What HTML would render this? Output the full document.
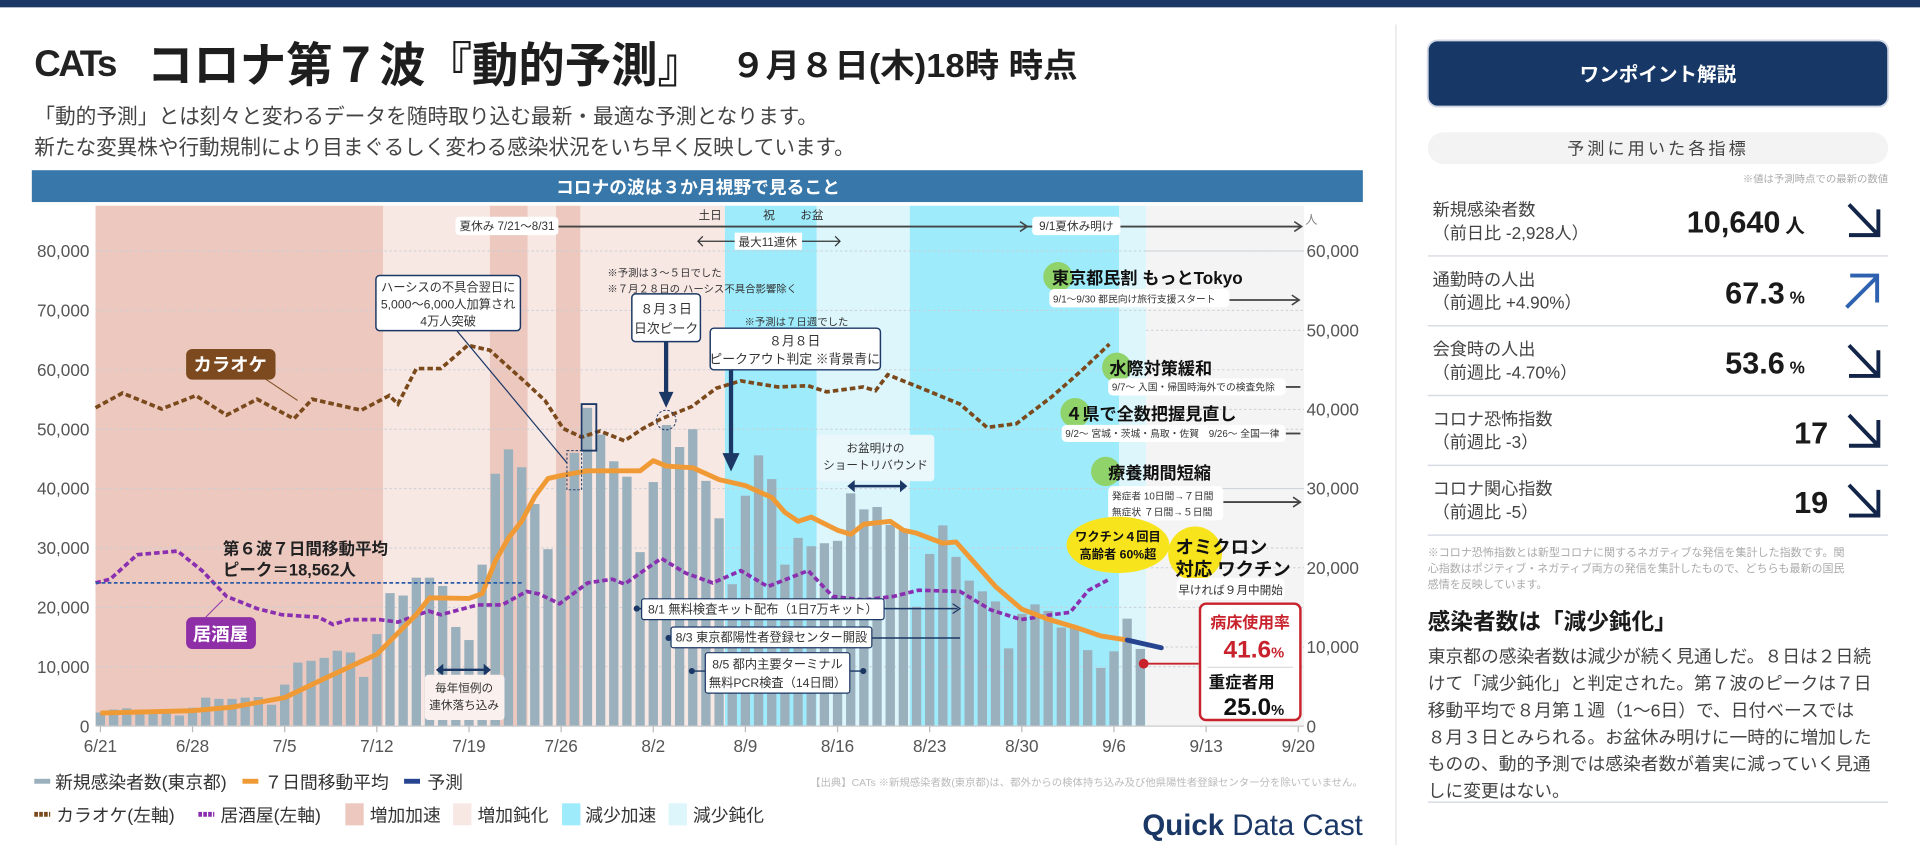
<!DOCTYPE html>
<html><head><meta charset="utf-8">
<style>
html,body{margin:0;padding:0;background:#fff;width:1920px;height:860px;overflow:hidden}
svg{display:block}
text{font-family:"Liberation Sans","Noto Sans CJK JP",sans-serif}
</style></head>
<body>
<svg id="s" width="1920" height="860" viewBox="0 0 1568 702.3" preserveAspectRatio="none" xmlns="http://www.w3.org/2000/svg">
<rect x="0" y="0" width="1568" height="6" fill="#1a3765"/>
<!-- header -->
<text x="28" y="62" font-family="Liberation Serif" font-size="30" fill="#222" font-weight="bold" letter-spacing="-2">CATs</text>
<text x="120" y="67" font-size="39" font-weight="bold" fill="#1e1e1e" textLength="455" lengthAdjust="spacingAndGlyphs">コロナ第７波『動的予測』</text>
<text x="597" y="63" font-size="27" font-weight="bold" fill="#1e1e1e" textLength="283" lengthAdjust="spacingAndGlyphs">９月８日(木)18時 時点</text>
<text x="28" y="101" font-size="17" fill="#444" textLength="640" lengthAdjust="spacingAndGlyphs">「動的予測」とは刻々と変わるデータを随時取り込む最新・最適な予測となります。</text>
<text x="28" y="126" font-size="17" fill="#444" textLength="670" lengthAdjust="spacingAndGlyphs">新たな変異株や行動規制により目まぐるしく変わる感染状況をいち早く反映しています。</text>
<rect x="26" y="139" width="1087" height="26" fill="#3777a9"/>
<text x="570" y="158" font-size="14.5" font-weight="bold" fill="#fff" text-anchor="middle">コロナの波は３か月視野で見ること</text>
<!-- backgrounds -->
<g id="bg">
<rect x="78" y="168" width="235" height="425" fill="#ecc8bf"/>
<rect x="313" y="168" width="87" height="425" fill="#f8e8e4"/>
<rect x="400" y="168" width="31" height="425" fill="#ecc8bf"/>
<rect x="431" y="168" width="23" height="425" fill="#f8e8e4"/>
<rect x="454" y="168" width="20" height="425" fill="#ecc8bf"/>
<rect x="474" y="168" width="118" height="425" fill="#f8e8e4"/>
<rect x="592" y="168" width="75" height="425" fill="#9eebfc"/>
<rect x="667" y="168" width="76" height="425" fill="#dcf6fc"/>
<rect x="743" y="168" width="171" height="425" fill="#9eebfc"/>
<rect x="914" y="168" width="22" height="425" fill="#dcf6fc"/>
<rect x="936" y="168" width="129" height="425" fill="#f4f4f4"/>
</g>
<g id="grid" stroke="#c9cfd6" stroke-width="0.8" stroke-dasharray="2 2"></g>
<g id="bars" fill="#9ab0bc"></g>
<g id="lines"></g>
<g id="axes" font-size="14" fill="#555"></g>
<!-- annotations -->
<g font-size="9.5" fill="#333">
<line x1="456" y1="185" x2="1062" y2="185" stroke="#444" stroke-width="1.5"/>
<path d="M1057 181 L1063 185 L1057 189" fill="none" stroke="#444" stroke-width="1.3"/>
<path d="M833 181 L839 185 L833 189" fill="none" stroke="#444" stroke-width="1.3"/>
<rect x="372" y="177" width="84" height="15" rx="3" fill="#fff"/>
<text x="414" y="188" text-anchor="middle">夏休み 7/21〜8/31</text>
<rect x="843" y="177" width="72" height="15" rx="3" fill="#fff"/>
<text x="879" y="188" text-anchor="middle">9/1夏休み明け</text>
<text x="580" y="179" text-anchor="middle">土日</text>
<text x="628" y="179" text-anchor="middle">祝</text>
<text x="663" y="179" text-anchor="middle">お盆</text>
<line x1="570" y1="197" x2="686" y2="197" stroke="#333" stroke-width="1"/>
<path d="M574 193 L570 197 L574 201 M682 193 L686 197 L682 201" fill="none" stroke="#333"/>
<rect x="600" y="190" width="55" height="14" fill="#fff"/>
<text x="627" y="201" text-anchor="middle">最大11連休</text>
<text x="1066" y="183" font-size="10" fill="#888">人</text>
<text x="496" y="226" font-size="8.5">※予測は３〜５日でした</text>
<text x="496" y="239" font-size="8.5">※７月２８日の ハーシス不具合影響除く</text>
<text x="608" y="266" font-size="8.5">※予測は７日週でした</text>
<line x1="373" y1="270" x2="463" y2="378" stroke="#1a3765" stroke-width="1"/>
<rect x="307" y="225" width="118" height="45" rx="3" fill="#fff" stroke="#1a3765" stroke-width="1.2"/>
<text x="366" y="238" text-anchor="middle" font-size="10">ハーシスの不具合翌日に</text>
<text x="366" y="252" text-anchor="middle" font-size="10">5,000〜6,000人加算され</text>
<text x="366" y="266" text-anchor="middle" font-size="10">4万人突破</text>
<rect x="463" y="368" width="12" height="32" fill="none" stroke="#1a3765" stroke-width="0.8" stroke-dasharray="2 1.5"/>
<rect x="475" y="330" width="12" height="38" fill="none" stroke="#1a3765" stroke-width="1.5"/>
<rect x="516" y="240" width="56" height="39" rx="3" fill="#fff" stroke="#1a3765" stroke-width="1.2"/>
<text x="544" y="256" text-anchor="middle" font-size="10.5">８月３日</text>
<text x="544" y="272" text-anchor="middle" font-size="10.5">日次ピーク</text>
<line x1="544" y1="279" x2="544" y2="322" stroke="#1a3765" stroke-width="3.5"/>
<path d="M538 320 L550 320 L544 333 Z" fill="#1a3765"/>
<circle cx="544" cy="343" r="8" fill="none" stroke="#1a3765" stroke-dasharray="2 1.5" stroke-width="0.8"/>
<rect x="580" y="268" width="139" height="34" rx="3" fill="#fff" stroke="#1a3765" stroke-width="1.2"/>
<text x="649" y="282" text-anchor="middle" font-size="10.5">８月８日</text>
<text x="649" y="297" text-anchor="middle" font-size="10.5">ピークアウト判定 ※背景青に</text>
<line x1="597" y1="302" x2="597" y2="372" stroke="#1a3765" stroke-width="3.5"/>
<path d="M590 370 L604 370 L597 385 Z" fill="#1a3765"/>
<line x1="210" y1="305" x2="243" y2="327" stroke="#7b4a1c" stroke-width="0.8"/>
<rect x="152" y="285" width="73" height="25" rx="5" fill="#7c4a1e"/>
<text x="188" y="303" text-anchor="middle" font-size="15" font-weight="bold" fill="#fff">カラオケ</text>
<rect x="667" y="355" width="96" height="38" rx="3" fill="#eaf8fc"/>
<text x="715" y="369" text-anchor="middle" font-size="9.5">お盆明けの</text>
<text x="715" y="383" text-anchor="middle" font-size="9.5">ショートリバウンド</text>
<line x1="694" y1="397" x2="739" y2="397" stroke="#1a3765" stroke-width="2"/>
<path d="M698 392 L692 397 L698 402 Z M735 392 L741 397 L735 402 Z" fill="#1a3765"/>
<line x1="78" y1="476" x2="426" y2="476" stroke="#2a5aa8" stroke-width="1.5" stroke-dasharray="3 2"/>
<text x="182" y="453" font-size="13.5" font-weight="bold" fill="#222">第６波７日間移動平均</text>
<text x="182" y="470" font-size="13.5" font-weight="bold" fill="#222">ピーク＝18,562人</text>
<line x1="168" y1="504" x2="182" y2="490" stroke="#8e2fa8" stroke-width="0.8"/>
<rect x="152" y="504" width="57" height="26" rx="5" fill="#8e2fa8"/>
<text x="180" y="523" text-anchor="middle" font-size="15" font-weight="bold" fill="#fff">居酒屋</text>
<line x1="358" y1="547" x2="399" y2="547" stroke="#1a3765" stroke-width="2"/>
<path d="M362 542 L356 547 L362 552 Z M395 542 L401 547 L395 552 Z" fill="#1a3765"/>
<rect x="347" y="551" width="65" height="37" rx="3" fill="#faf0ee"/>
<text x="379" y="565" text-anchor="middle" font-size="9.5">毎年恒例の</text>
<text x="379" y="579" text-anchor="middle" font-size="9.5">連休落ち込み</text>
<line x1="520" y1="497" x2="782" y2="497" stroke="#1a3765" stroke-width="1.2"/>
<path d="M778 493 L784 497 L778 501" fill="none" stroke="#1a3765"/>
<circle cx="520" cy="497" r="2.5" fill="#1a3765"/>
<rect x="524" y="489" width="198" height="17" rx="2" fill="#fff" stroke="#1a3765"/>
<text x="623" y="501" text-anchor="middle" font-size="10">8/1 無料検査キット配布（1日7万キット）</text>
<line x1="546" y1="521" x2="784" y2="521" stroke="#1a3765" stroke-width="1.2"/>
<circle cx="546" cy="521" r="2.5" fill="#1a3765"/>
<rect x="548" y="512" width="164" height="17" rx="2" fill="#fff" stroke="#1a3765"/>
<text x="630" y="524" text-anchor="middle" font-size="10">8/3 東京都陽性者登録センター開設</text>
<line x1="565" y1="548" x2="705" y2="548" stroke="#1a3765" stroke-width="1.2"/>
<circle cx="565" cy="548" r="2.5" fill="#1a3765"/><circle cx="705" cy="548" r="2.5" fill="#1a3765"/>
<rect x="576" y="533" width="118" height="33" rx="2" fill="#fff" stroke="#1a3765"/>
<text x="635" y="546" text-anchor="middle" font-size="10">8/5 都内主要ターミナル</text>
<text x="635" y="561" text-anchor="middle" font-size="10">無料PCR検査（14日間）</text>
<!-- right side events -->
<line x1="1004" y1="245" x2="1060" y2="245" stroke="#444" stroke-width="1.5"/>
<path d="M1055 241 L1061 245 L1055 249" fill="none" stroke="#444" stroke-width="1.3"/>
<circle cx="864" cy="226" r="12" fill="#8fd36a"/>
<text x="859" y="232" font-size="14" font-weight="bold" fill="#111">東京都民割 もっとTokyo</text>
<rect x="857" y="236" width="147" height="15" rx="4" fill="#fff"/>
<text x="860" y="247" font-size="8">9/1〜9/30 都民向け旅行支援スタート</text>
<line x1="1050" y1="316" x2="1062" y2="316" stroke="#444" stroke-width="1.5"/>
<circle cx="912" cy="300" r="12" fill="#8fd36a"/>
<text x="906" y="306" font-size="14" font-weight="bold" fill="#111">水際対策緩和</text>
<rect x="905" y="309" width="145" height="14" rx="4" fill="#fff"/>
<text x="908" y="319" font-size="8">9/7〜 入国・帰国時海外での検査免除</text>
<line x1="1050" y1="354" x2="1062" y2="354" stroke="#444" stroke-width="1.5"/>
<circle cx="878" cy="337" r="12" fill="#8fd36a"/>
<text x="870" y="343" font-size="14" font-weight="bold" fill="#111">４県で全数把握見直し</text>
<rect x="867" y="347" width="183" height="14" rx="4" fill="#fff"/>
<text x="870" y="357" font-size="8">9/2〜 宮城・茨城・鳥取・佐賀　9/26〜 全国一律</text>
<line x1="999" y1="410" x2="1062" y2="410" stroke="#444" stroke-width="1.5"/>
<path d="M1056 406 L1062 410 L1056 414" fill="none" stroke="#444" stroke-width="1.3"/>
<circle cx="903" cy="385" r="12" fill="#8fd36a"/>
<text x="905" y="391" font-size="14" font-weight="bold" fill="#111">療養期間短縮</text>
<rect x="905" y="397" width="94" height="28" rx="4" fill="#fff"/>
<text x="908" y="408" font-size="8">発症者 10日間→７日間</text>
<text x="908" y="421" font-size="8">無症状 ７日間→５日間</text>
<ellipse cx="913" cy="445" rx="42" ry="23" fill="#f8e41d"/>
<text x="913" y="442" text-anchor="middle" font-size="10" font-weight="bold" fill="#111">ワクチン４回目</text>
<text x="913" y="456" text-anchor="middle" font-size="10" font-weight="bold" fill="#111">高齢者 60%超</text>
<circle cx="976" cy="452" r="22" fill="#f8e41d"/>
<text x="960" y="452" font-size="15" font-weight="bold" fill="#111">オミクロン</text>
<text x="960" y="470" font-size="15" font-weight="bold" fill="#111">対応 ワクチン</text>
<rect x="961" y="472" width="88" height="18" rx="4" fill="#fff"/>
<text x="1005" y="485" text-anchor="middle" font-size="9.5">早ければ９月中開始</text>
</g>
<line x1="934" y1="542" x2="979" y2="542" stroke="#c8222d" stroke-width="1.5"/>
<circle cx="934" cy="542" r="4" fill="#c8222d"/>
<rect x="980" y="493" width="82" height="95" rx="5" fill="#fff" stroke="#c8222d" stroke-width="2"/>
<text x="1021" y="513" text-anchor="middle" font-size="13" font-weight="bold" fill="#c8222d">病床使用率</text>
<text x="1024" y="537" text-anchor="middle" font-size="20" font-weight="bold" fill="#c8222d">41.6<tspan font-size="12">%</tspan></text>
<line x1="986" y1="545" x2="1056" y2="545" stroke="#ddd"/>
<text x="987" y="562" font-size="13.5" font-weight="bold" fill="#111">重症者用</text>
<text x="1024" y="584" text-anchor="middle" font-size="20" font-weight="bold" fill="#111">25.0<tspan font-size="12">%</tspan></text>
<!-- legend -->
<g font-size="14.5" fill="#333">
<rect x="28" y="636" width="13" height="4" fill="#9ab0bc"/><text x="45" y="644">新規感染者数(東京都)</text>
<rect x="198" y="636" width="13" height="4" fill="#f09a36"/><text x="216" y="644">７日間移動平均</text>
<rect x="330" y="636" width="13" height="4" fill="#26448f"/><text x="349" y="644">予測</text>
<line x1="28" y1="665" x2="41" y2="665" stroke="#7b4a1c" stroke-width="4" stroke-dasharray="3 1"/><text x="46" y="671">カラオケ(左軸)</text>
<line x1="162" y1="665" x2="175" y2="665" stroke="#8a2fb0" stroke-width="4" stroke-dasharray="3 1"/><text x="180" y="671">居酒屋(左軸)</text>
<rect x="282" y="656" width="15" height="18" fill="#ecc8bf"/><text x="302" y="671">増加加速</text>
<rect x="370" y="656" width="15" height="18" fill="#f8e8e4"/><text x="390" y="671">増加鈍化</text>
<rect x="459" y="656" width="15" height="18" fill="#9eebfc"/><text x="478" y="671">減少加速</text>
<rect x="546" y="656" width="15" height="18" fill="#dcf6fc"/><text x="566" y="671">減少鈍化</text>
</g>
<text x="1113" y="642" text-anchor="end" font-size="8.5" fill="#bbb">【出典】CATs ※新規感染者数(東京都)は、都外からの検体持ち込み及び他県陽性者登録センター分を除いていません。</text>
<text x="1113" y="682" text-anchor="end" font-size="24" fill="#1a3765"><tspan font-weight="bold">Quick</tspan> Data Cast</text>
<line x1="1140" y1="20" x2="1140" y2="690" stroke="#e2e2e2" stroke-width="1"/>
<!-- right panel -->
<rect x="1166" y="33" width="376" height="54" rx="8" fill="#173766" stroke="#d0d8e6" stroke-width="1.5"/>
<text x="1354" y="66" text-anchor="middle" font-size="16" font-weight="bold" fill="#fff">ワンポイント解説</text>
<rect x="1166" y="108" width="376" height="26" rx="13" fill="#f3f3f3"/>
<text x="1354" y="126" text-anchor="middle" font-size="14" fill="#444" letter-spacing="2.5">予測に用いた各指標</text>
<text x="1542" y="149" text-anchor="end" font-size="8.5" fill="#aaa">※値は予測時点での最新の数値</text>
<g font-size="14" fill="#444">
<text x="1170" y="176">新規感染者数</text><text x="1170" y="195">（前日比 -2,928人）</text>
<text x="1170" y="233">通勤時の人出</text><text x="1170" y="252">（前週比 +4.90%）</text>
<text x="1170" y="290">会食時の人出</text><text x="1170" y="309">（前週比 -4.70%）</text>
<text x="1170" y="347">コロナ恐怖指数</text><text x="1170" y="366">（前週比 -3）</text>
<text x="1170" y="404">コロナ関心指数</text><text x="1170" y="423">（前週比 -5）</text>
</g>
<g font-weight="bold" fill="#1a1a1a" text-anchor="end">
<text x="1474" y="190" font-size="25">10,640<tspan font-size="16" dx="4">人</tspan></text>
<text x="1474" y="248" font-size="25">67.3<tspan font-size="14" dx="4">%</tspan></text>
<text x="1474" y="305" font-size="25">53.6<tspan font-size="14" dx="4">%</tspan></text>
<text x="1493" y="362" font-size="25">17</text>
<text x="1493" y="419" font-size="25">19</text>
</g>
<g fill="none" stroke-width="3.2">
<path d="M1510 167 L1533 191 M1510 192 L1534 192 L1534 171" stroke="#13264a"/>
<path d="M1508 251 L1532 227 M1511 225 L1533 225 L1533 247" stroke="#2e62b0"/>
<path d="M1510 282 L1533 306 M1510 307 L1534 307 L1534 286" stroke="#13264a"/>
<path d="M1510 339 L1533 363 M1510 364 L1534 364 L1534 343" stroke="#13264a"/>
<path d="M1510 396 L1533 420 M1510 421 L1534 421 L1534 400" stroke="#13264a"/>
</g>
<g stroke="#d8dce4" stroke-width="1.2">
<line x1="1166" y1="209" x2="1542" y2="209"/><line x1="1166" y1="266" x2="1542" y2="266"/>
<line x1="1166" y1="323" x2="1542" y2="323"/><line x1="1166" y1="380" x2="1542" y2="380"/>
<line x1="1166" y1="437" x2="1542" y2="437"/><line x1="1166" y1="655" x2="1542" y2="655"/>
</g>
<g font-size="9" fill="#aaa">
<text x="1166" y="454">※コロナ恐怖指数とは新型コロナに関するネガティブな発信を集計した指数です。関</text>
<text x="1166" y="467">心指数はポジティブ・ネガティブ両方の発信を集計したもので、どちらも最新の国民</text>
<text x="1166" y="480">感情を反映しています。</text>
</g>
<text x="1166" y="514" font-size="18.5" font-weight="bold" fill="#1a1a1a">感染者数は「減少鈍化」</text>
<g font-size="14.5" fill="#444">
<text x="1166" y="541">東京都の感染者数は減少が続く見通しだ。８日は２日続</text>
<text x="1166" y="563">けて「減少鈍化」と判定された。第７波のピークは７日</text>
<text x="1166" y="585">移動平均で８月第１週（1～6日）で、日付ベースでは</text>
<text x="1166" y="607">８月３日とみられる。お盆休み明けに一時的に増加した</text>
<text x="1166" y="629">ものの、動的予測では感染者数が着実に減っていく見通</text>
<text x="1166" y="651">しに変更はない。</text>
</g>
</svg>
<script>
(function(){
var NS="http://www.w3.org/2000/svg";
function el(p,t,a){var e=document.createElementNS(NS,t);for(var k in a)e.setAttribute(k,a[k]);p.appendChild(e);return e;}
var g=document.getElementById('grid'),bars=document.getElementById('bars'),ln=document.getElementById('lines'),ax=document.getElementById('axes');
function X(d){return 82+d*10.75;}
function Y(v){return 593-v*4.85;}
for(var i=1;i<=8;i++){el(g,'line',{x1:78,x2:1065,y1:Y(i*10),y2:Y(i*10)});}
for(var i=1;i<=6;i++){var y=593-i*64.67;el(g,'line',{x1:936,x2:1065,y1:y,y2:y});}
var v=[2.3,2.8,3.0,2.2,2.3,2.5,1.8,3.1,4.8,4.6,4.6,4.8,4.9,3.6,7.0,10.7,11.0,11.5,12.7,12.4,8.3,15.5,22.4,22.0,25.0,25.0,23.6,16.7,14.5,27.2,42.5,46.6,43.6,37.4,29.8,42.1,46,53.6,49.1,44.6,42.0,29.3,41.1,50.7,47.0,50.0,41.3,35.0,23.9,38.8,45.6,41.6,27.2,31.7,30.3,30.8,31.2,39.2,36.5,36.9,33.9,33.0,20.1,29.0,33.8,28.5,24.5,22.7,21.0,13.1,18.9,20.5,19.4,16.6,16.8,12.8,9.8,12.6,18.1,13];
for(var d=0;d<v.length;d++){el(bars,'rect',{x:X(d)-3.8,y:Y(v[d]),width:7.6,height:v[d]*4.85});}
function path(pts){return 'M'+pts.map(function(p){return p[0].toFixed(1)+' '+p[1].toFixed(1);}).join(' L');}
var kar=[[78,333],[100,321],[132,334],[160,323],[185,339],[210,326],[240,342],[255,326],[295,335],[318,323],[325,330],[340,301],[360,301],[382,282],[400,286],[430,313],[445,327],[460,350],[475,357],[490,352],[510,360],[525,350],[540,342],[565,332],[585,317],[605,311],[635,316],[660,315],[675,320],[705,316],[715,319],[725,306],[750,316],[784,330],[806,349],[830,346],[859,324],[884,302],[906,281]];
el(ln,'path',{d:path(kar),fill:'none',stroke:'#7b4a1c','stroke-width':3,'stroke-dasharray':'4.5 2.5'});
var iz=[[78,476],[90,473],[112,453],[145,450],[165,466],[185,487],[210,497],[230,502],[260,504],[272,510],[285,506],[310,506],[325,508],[350,499],[360,502],[390,494],[410,494],[430,483],[440,485],[457,493],[480,476],[500,473],[510,477],[540,456],[560,468],[582,476],[605,466],[627,479],[660,466],[680,487],[705,490],[730,487],[750,482],[784,483],[809,498],[834,506],[859,502],[874,500],[889,482],[906,473]];
el(ln,'path',{d:path(iz),fill:'none',stroke:'#8a2fb0','stroke-width':3,'stroke-dasharray':'4.5 2.5'});
var kp=[[0,2.2],[7,2.6],[10,3.2],[14,4.8],[17,8],[21,12.1],[24,18.8],[25,21.6],[28,21.5],[29,22.3],[30,27.8],[31,31.7],[32,34.5],[33,38.7],[34,41.7],[35,42.2],[37,43],[40,43],[41,43],[42,44.7],[43,43.8],[45,43.5],[47,41.5],[49,40.5],[51,38.5],[52,36],[53,34.5],[54,35.2],[56,33],[57,32.3],[58,34],[60,34.5],[61,33],[62,32.5],[64,30.8],[65,31],[67,26],[68,23.5],[70,19.7],[72,18],[74,16.7],[76,15.2],[78,14.5]];
el(ln,'path',{d:path(kp.map(function(p){return [X(p[0]),Y(p[1])];})),fill:'none',stroke:'#f09a36','stroke-width':4,'stroke-linejoin':'round'});
el(ln,'path',{d:path([[X(78),Y(14.5)],[X(80.6),Y(13.2)]]),fill:'none',stroke:'#26448f','stroke-width':4,'stroke-linecap':'round'});
el(ax,'line',{x1:78,x2:1065,y1:593,y2:593,stroke:'#ccc'});
for(var i=0;i<=8;i++){var t=el(ax,'text',{x:73,y:Y(i*10)+5,'text-anchor':'end'});t.textContent=i==0?'0':(i*10)+',000';}
for(var i=0;i<=6;i++){var t=el(ax,'text',{x:1067,y:593-i*64.67+5});t.textContent=i==0?'0':(i*10)+',000';}
var lab=['6/21','6/28','7/5','7/12','7/19','7/26','8/2','8/9','8/16','8/23','8/30','9/6','9/13','9/20'];
for(var i=0;i<lab.length;i++){var x=X(i*7);el(ax,'line',{x1:x,x2:x,y1:593,y2:598,stroke:'#bbb'});var t=el(ax,'text',{x:x,y:614,'text-anchor':'middle'});t.textContent=lab[i];}
})();
</script>
</body></html>
